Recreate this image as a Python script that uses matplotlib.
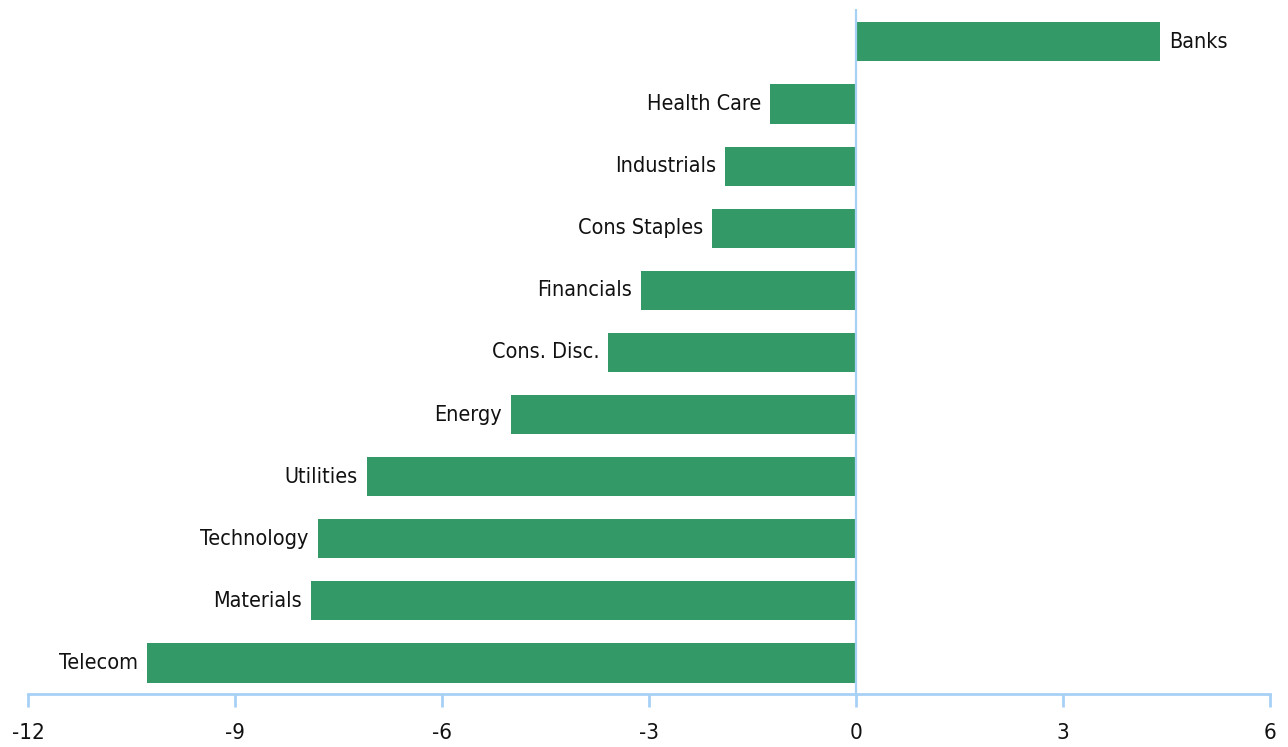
import matplotlib
matplotlib.use("Agg")
import matplotlib.pyplot as plt

sectors = ["Telecom", "Materials", "Technology", "Utilities", "Energy",
           "Cons. Disc.", "Financials", "Cons Staples", "Industrials",
           "Health Care", "Banks"]
values = [-10.28, -7.90, -7.80, -7.09, -5.0, -3.59, -3.12, -2.09, -1.90, -1.25, 4.41]
ticks = [-12, -9, -6, -3, 0, 3, 6]

green = "#339966"
axis_blue = "#a7d0f5"

plt.rcParams['font.family'] = ['DejaVu Sans']
plt.rcParams['font.stretch'] = 'condensed'

fig = plt.figure(figsize=(12.88, 7.47), dpi=100)
ax = fig.add_axes([28 / 1288, 53 / 747, 1242 / 1288, 685 / 747])

pos = list(range(len(sectors)))
ax.barh(pos, values, height=0.63, color=green, zorder=2)

# sector names sit just beyond the end of each bar
for y, v, name in zip(pos, values, sectors):
    off = 0.13 if v >= 0 else -0.13
    ax.text(v + off, y, name, ha='left' if v >= 0 else 'right', va='center',
            fontsize=15.5, color='#111111', fontstretch='condensed')

ax.set_xlim(-12, 6)
ax.set_ylim(-0.5, 10.53)
ax.set_xticks(ticks)
ax.set_xticklabels([str(t) for t in ticks], fontsize=16, color='#111111',
                   fontstretch='condensed')
ax.set_yticks([])
ax.axvline(0, color=axis_blue, lw=1.6, zorder=3)

for side in ['top', 'right', 'left']:
    ax.spines[side].set_visible(False)
ax.spines['bottom'].set_color(axis_blue)
ax.spines['bottom'].set_linewidth(2)
ax.tick_params(axis='x', direction='out', length=9, width=2, color=axis_blue, pad=12)

fig.savefig("out.png", dpi=100)
